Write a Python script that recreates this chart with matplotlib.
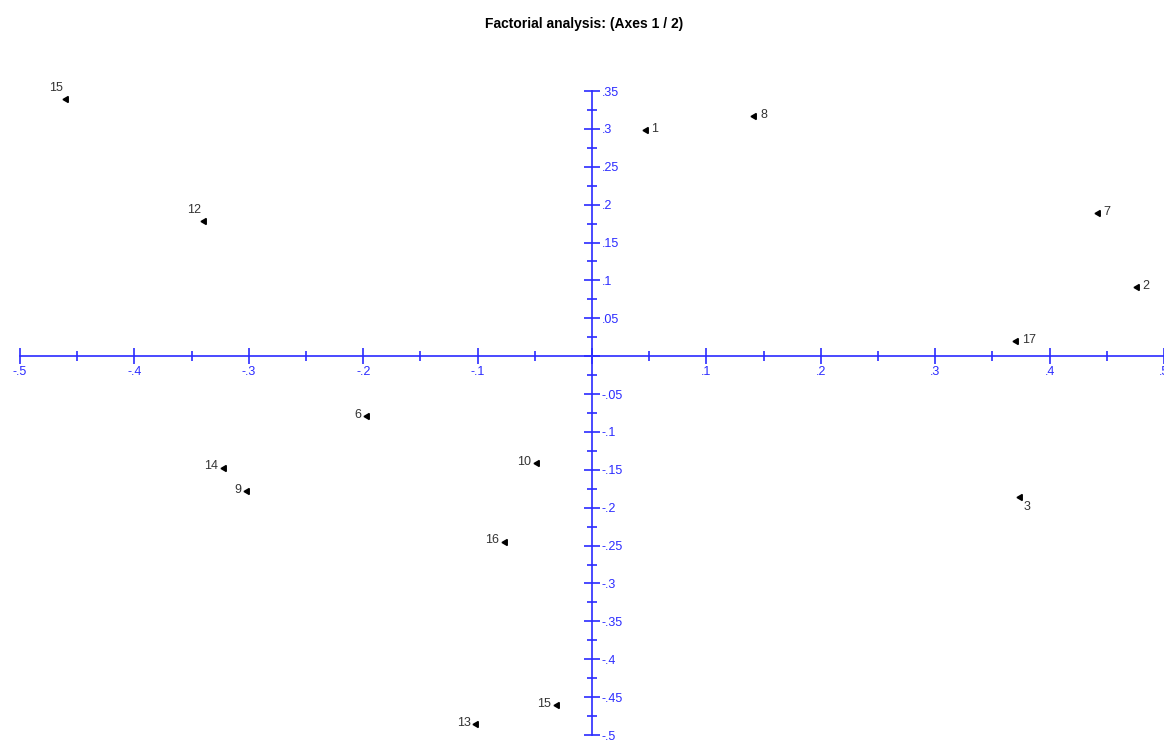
import matplotlib.pyplot as plt
from matplotlib import ticker
import numpy as np

plt.rcParams['font.family'] = ['Liberation Sans', 'DejaVu Sans']

labels = ['15', '12', '1', '8', '7', '2', '17', '3', '6', '14', '9', '10', '16', '15', '13']
axis1 = [-0.460, -0.339, 0.047, 0.142, 0.442, 0.476, 0.371, 0.374, -0.197, -0.322, -0.302, -0.048, -0.076, -0.031, -0.101]
axis2 = [0.340, 0.179, 0.298, 0.317, 0.189, 0.091, 0.020, -0.186, -0.079, -0.147, -0.178, -0.141, -0.245, -0.461, -0.486]
# where each label sits relative to its point
sides = ['ul', 'ul', 'r', 'r', 'r', 'r', 'r', 'br', 'l', 'l', 'l', 'l', 'l', 'l', 'l']

blue = '#2b2bff'
offsets = {'r': (4, 1, 'left', 'center'), 'l': (-4, 1, 'right', 'center'),
           'ul': (-2, 3, 'right', 'bottom'), 'br': (3, -3, 'left', 'top')}

fig = plt.figure(figsize=(11.64, 7.41), dpi=100)
ax = fig.add_axes([20 / 1164, 6 / 741, 1144 / 1164, 644 / 741])
ax.set_xlim(-0.5, 0.5)
ax.set_ylim(-0.5, 0.35)

ax.plot(axis1, axis2, linestyle='none', marker=(3, 0, 90), ms=5,
        color='black', clip_on=False, zorder=3)
for x, y, lab, s in zip(axis1, axis2, labels, sides):
    dx, dy, ha, va = offsets[s]
    ax.annotate(lab, (x, y), xytext=(dx, dy), textcoords='offset points',
                ha=ha, va=va, fontsize=9, color='#333333', annotation_clip=False)

for side in ['top', 'left']:
    ax.spines[side].set_visible(False)
ax.spines['right'].set_position(('data', 0))
ax.spines['bottom'].set_position(('data', 0))
ax.spines['right'].set_color(blue)
ax.spines['bottom'].set_color(blue)
ax.spines['right'].set_linewidth(1.2)
ax.spines['bottom'].set_linewidth(1.2)
ax.yaxis.tick_right()


def short(v, pos):
    if abs(v) < 1e-9:
        return ''
    s = f'{v:g}'
    return s.replace('0.', '.')


ax.xaxis.set_major_locator(ticker.MultipleLocator(0.1))
ax.xaxis.set_minor_locator(ticker.MultipleLocator(0.05))
ax.yaxis.set_major_locator(ticker.MultipleLocator(0.05))
ax.yaxis.set_minor_locator(ticker.MultipleLocator(0.025))
ax.xaxis.set_major_formatter(ticker.FuncFormatter(short))
ax.yaxis.set_major_formatter(ticker.FuncFormatter(short))
ax.tick_params(which='major', direction='inout', length=12, width=1.2,
               color=blue, labelcolor=blue, labelsize=9, pad=1)
ax.tick_params(which='minor', direction='inout', length=7, width=1.2, color=blue)

fig.text(0.502, 0.967, 'Factorial analysis: (Axes 1 / 2)', ha='center', va='center',
         fontsize=10, fontweight='bold')

fig.savefig('out.png', dpi=100)
